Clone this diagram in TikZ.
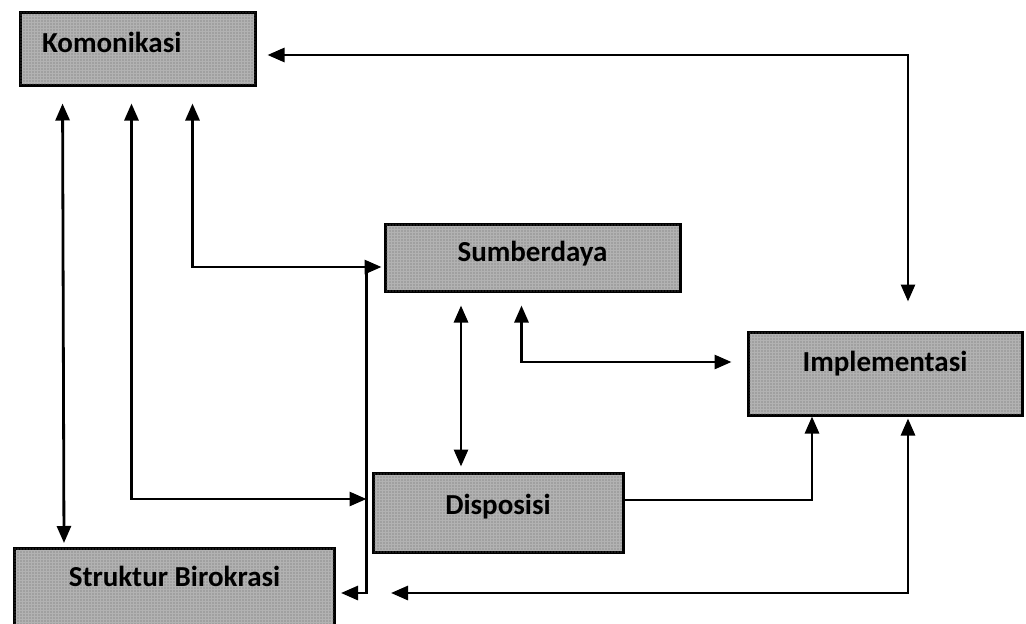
\documentclass[tikz,border=0pt]{standalone}
\usepackage{fontspec}
\setmainfont{Carlito}
\usetikzlibrary{arrows.meta, patterns, patterns.meta}

\tikzset{
  faktor/.style={draw, line width=3pt, fill=black!30,
    postaction={pattern={Dots[distance=3pt,radius=0.6pt]}, pattern color=black!60},
    font=\fontsize{29}{34}\selectfont\bfseries, text height=20pt, text depth=12pt,
    align=center},
  link/.style={line width=2.8pt, -{Triangle[length=17pt,width=14pt]}},
  dualink/.style={line width=2.8pt, {Triangle[length=17pt,width=14pt]}-{Triangle[length=17pt,width=14pt]}}
}

\begin{document}
\begin{tikzpicture}[x=1pt, y=-1pt]
  \useasboundingbox (0,0) rectangle (1026,624);
  % kotak faktor
  \node[faktor, minimum height=73pt, text width=191pt, inner xsep=22pt, align=left] (kom) at (137.5,48.5) {Komonikasi};
  \node[faktor, minimum width=295pt, minimum height=67pt] (sum) at (532.5,257.5) {Sumberdaya};
  \node[faktor, minimum width=274pt, minimum height=83pt, text depth=24pt] (imp) at (885,373.5) {Implementasi};
  \node[faktor, minimum width=250pt, minimum height=79pt, text depth=16pt] (dis) at (498,512.5) {Disposisi};
  \node[faktor, minimum width=320pt, text height=36pt, text depth=62pt, inner ysep=2pt, anchor=north west] (stb) at (13,547) {Struktur Birokrasi};
  % panah dari komonikasi
  \draw[dualink, shorten <=11pt, shorten >=29pt] ([yshift=-6.5pt]kom.east) -| ([xshift=23pt]imp.north);
  \draw[dualink, shorten <=17pt, shorten >=4pt] ([xshift=44pt]kom.south west) -- ([xshift=51pt]stb.north west);
  \draw[dualink, shorten <=17pt, shorten >=5pt] ([xshift=113pt]kom.south west) |- ([yshift=13.5pt]dis.west);
  \draw[dualink, shorten <=17pt, shorten >=2pt] ([xshift=174pt]kom.south west) |- ([yshift=-9.5pt]sum.west);
  % panah dari sumberdaya
  \draw[link, shorten >=5pt] ([xshift=-17pt,yshift=-9.5pt]sum.west) |- ([yshift=-46pt]stb.north east);
  \draw[dualink, shorten <=13pt, shorten >=5pt] ([xshift=-71.5pt]sum.south) -- ([xshift=-37pt]dis.north);
  \draw[dualink, shorten <=13pt, shorten >=15pt] ([xshift=-11pt]sum.south) |- ([yshift=11.5pt]imp.west);
  % panah ke implementasi
  \draw[link] ([yshift=12.5pt]dis.east) -| ([xshift=-73pt]imp.south);
  \draw[dualink, shorten <=2pt] ([xshift=23pt]imp.south) |- ([xshift=55pt,yshift=-46pt]stb.north east);
\end{tikzpicture}
\end{document}
